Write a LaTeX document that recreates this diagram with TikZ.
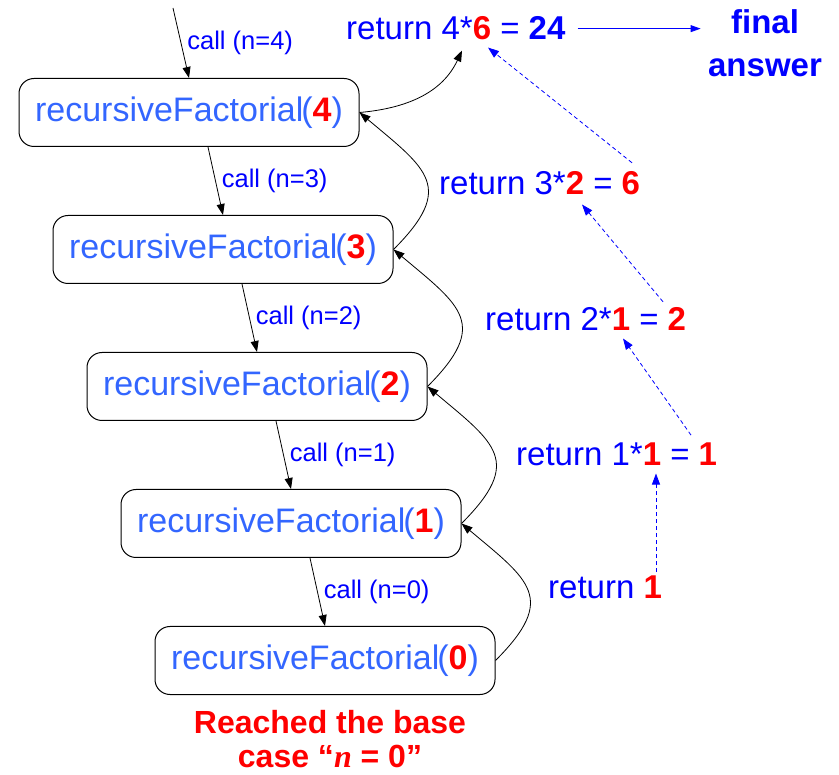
\documentclass[tikz,border=0pt]{standalone}
\usepackage{fontspec}
\setmainfont{Liberation Sans}
\newfontfamily\serifit{Liberation Serif}
\usepackage{xcolor}
\usetikzlibrary{arrows.meta,positioning}
\definecolor{FrameBlue}{HTML}{3366FF}
\definecolor{CallBlue}{HTML}{0000FF}
\definecolor{HitRed}{HTML}{FF0000}

\newcommand{\hit}[1]{\textcolor{HitRed}{\textbf{#1}}}

\begin{document}
\begin{tikzpicture}[
  x=1pt, y=-1pt,
  node distance=68pt,
  frame/.style={draw, rounded corners=15pt, line width=1pt, minimum width=340pt, minimum height=68pt, inner sep=0pt, text=FrameBlue, font=\fontsize{34}{38}\selectfont},
  callnote/.style={right=5pt, inner sep=1pt, text=CallBlue, font=\fontsize{25.5}{28}\selectfont},
  retnote/.style={anchor=base west, inner sep=0pt, text=CallBlue, font=\fontsize{33}{38}\selectfont},
  call/.style={-{Triangle[length=11pt,width=8pt]}, line width=0.8pt},
  back/.style={-{Triangle[length=11pt,width=8pt]}, line width=0.8pt, looseness=1.6},
  pass/.style={-{Triangle[length=11pt,width=8pt]}, dashed, dash pattern=on 4pt off 3pt, line width=0.8pt, color=CallBlue},
  answer/.style={-{Triangle[length=10pt,width=7pt]}, line width=0.8pt, color=CallBlue}
]
  \useasboundingbox (0,0) rectangle (839,775);

  % the calls, one box per level
  \node[frame] at (189,112.5) (f4) {recursiveFactorial\kern-2pt(\hit{4})};
  \node[frame, below=of f4, xshift=34pt] (f3) {recursiveFactorial\kern-2pt(\hit{3})};
  \node[frame, below=of f3, xshift=34pt] (f2) {recursiveFactorial\kern-2pt(\hit{2})};
  \node[frame, below=of f2, xshift=34pt] (f1) {recursiveFactorial\kern-2pt(\hit{1})};
  \node[frame, below=of f1, xshift=34pt] (f0) {recursiveFactorial\kern-2pt(\hit{0})};
  \coordinate (start) at (173,8);

  \node[align=center, inner sep=0pt, text=HitRed, font=\fontsize{32}{34}\selectfont\bfseries] at (330,739) (base)
    {Reached the base\\case “{\serifit\itshape n} = 0”};

  % values handed back
  \node[retnote] at (346,40) (r4) {return 4*\hit{6} = \textbf{24}};
  \node[retnote] at (439,195) (r3) {return 3*\hit{2} = \hit{6}};
  \node[retnote] at (485,331) (r2) {return 2*\hit{1} = \hit{2}};
  \node[retnote] at (516,466) (r1) {return 1*\hit{1} = \hit{1}};
  \node[retnote] at (548,599) (r0) {return \hit{1}};
  \node[align=center, text=CallBlue, font=\fontsize{33}{43}\selectfont\bfseries] at (765,43) (fin) {final\\answer};

  \draw[call] (start) -- node[callnote]{call (n=4)} (f4.north);
  \draw[call] ([xshift=19pt]f4.south) -- node[callnote]{call (n=3)} (f3.north);
  \draw[call] ([xshift=19pt]f3.south) -- node[callnote]{call (n=2)} (f2.north);
  \draw[call] ([xshift=19pt]f2.south) -- node[callnote]{call (n=1)} (f1.north);
  \draw[call] ([xshift=19pt]f1.south) -- node[callnote]{call (n=0)} (f0.north);

  \draw[back] (f0.east) to[out=45, in=-40] (f1.east);
  \draw[back] (f1.east) to[out=45, in=-40] (f2.east);
  \draw[back] (f2.east) to[out=45, in=-40] (f3.east);
  \draw[back] (f3.east) to[out=45, in=-40] (f4.east);
  \draw[back, looseness=1] (f4.east) to[out=5, in=-115] ([shift={(116,10)}]r4.south west);

  \draw[pass] ([shift={(108,-4)}]r0.north west) -- ([shift={(140,7)}]r1.south west);
  \draw[pass] ([shift={(175,-8)}]r1.north west) -- ([shift={(138,7)}]r2.south west);
  \draw[pass] ([shift={(178,-6)}]r2.north west) -- ([shift={(143,9)}]r3.south west);
  \draw[pass] ([shift={(193,-9)}]r3.north west) -- ([shift={(142,7)}]r4.south west);
  \draw[answer] ([xshift=12pt]r4.east) -- ([xshift=-4pt]r4.east -| fin.west);
\end{tikzpicture}
\end{document}
